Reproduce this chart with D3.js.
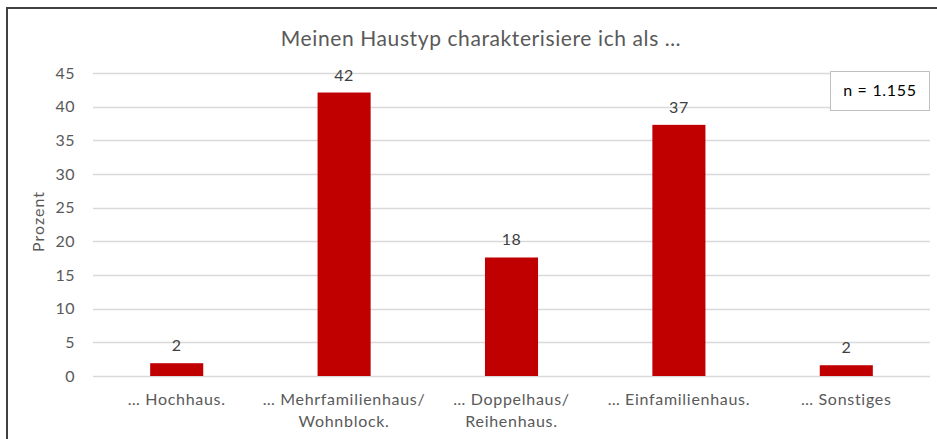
<!DOCTYPE html>
<html>
<head>
<meta charset="utf-8">
<script src="https://cdn.jsdelivr.net/npm/d3@7"></script>
<style>
  body { margin: 0; background: #fff; }
  svg { display: block; font-family: Lato, "Open Sans", sans-serif; }
</style>
</head>
<body>
<svg id="chart" width="937" height="439"></svg>
<script>
// data
var categories = [["… Hochhaus."], ["… Mehrfamilienhaus/", "Wohnblock."], ["… Doppelhaus/", "Reihenhaus."], ["… Einfamilienhaus."], ["… Sonstiges"]];
var percentages = [1.9, 42.1, 17.6, 37.3, 1.6];
var valueLabels = ["2", "42", "18", "37", "2"];
var yTicks = [0, 5, 10, 15, 20, 25, 30, 35, 40, 45];
var chartTitle = "Meinen Haustyp charakterisiere ich als …";
var yTitle = "Prozent";
var noteText = "n = 1.155";

var svg = d3.select("#chart"),
    margin = { top: 73, right: 7, bottom: 63, left: 93 },
    width = +svg.attr("width") - margin.left - margin.right,
    height = +svg.attr("height") - margin.top - margin.bottom;

// outer frame (right and bottom run off the picture)
svg.append("rect")
    .attr("x", 7).attr("y", 8)
    .attr("width", 960).attr("height", 460)
    .attr("fill", "none")
    .attr("stroke", "#404040")
    .attr("stroke-width", 2);

var g = svg.append("g").attr("transform", "translate(" + margin.left + "," + margin.top + ")");

var idx = d3.range(categories.length);

var x = d3.scaleBand()
    .domain(idx)
    .range([0, width])
    .paddingInner(0.683)
    .paddingOuter(0.3415);

var y = d3.scaleLinear()
    .domain([0, 45])
    .range([height, 0]);

// gridlines
g.append("g")
    .selectAll("line")
    .data(yTicks)
    .enter().append("line")
    .attr("x1", 0).attr("x2", width)
    .attr("y1", function (d) { return Math.round(y(d)) + 0.5; })
    .attr("y2", function (d) { return Math.round(y(d)) + 0.5; })
    .attr("stroke", "#d9d9d9")
    .attr("stroke-width", 1.3);

// y axis labels
var yAxis = g.append("g")
    .call(d3.axisLeft(y).tickValues(yTicks).tickSize(0).tickPadding(18));
yAxis.select(".domain").remove();
yAxis.selectAll("text")
    .attr("fill", "#595959")
    .attr("font-size", 16)
    .attr("letter-spacing", 0.5)
    .attr("font-family", "Lato, sans-serif");

// bars
g.append("g")
    .selectAll("rect")
    .data(idx)
    .enter().append("rect")
    .attr("x", function (d) { return x(d); })
    .attr("y", function (d) { return y(percentages[d]); })
    .attr("width", x.bandwidth())
    .attr("height", function (d) { return height - y(percentages[d]); })
    .attr("fill", "#c00000");

// value labels
g.append("g")
    .selectAll("text")
    .data(idx)
    .enter().append("text")
    .attr("x", function (d) { return x(d) + x.bandwidth() / 2; })
    .attr("y", function (d) { return y(percentages[d]) - 12; })
    .attr("text-anchor", "middle")
    .attr("fill", "#404040")
    .attr("font-size", 16)
    .attr("letter-spacing", 0.5)
    .text(function (d) { return valueLabels[d]; });

// category labels
var catLabels = g.append("g")
    .selectAll("text")
    .data(idx)
    .enter().append("text")
    .attr("x", function (d) { return x(d) + x.bandwidth() / 2; })
    .attr("y", height + 29)
    .attr("text-anchor", "middle")
    .attr("fill", "#595959")
    .attr("font-size", 16)
    .attr("letter-spacing", 0.7);
catLabels.selectAll("tspan")
    .data(function (d) { return categories[d]; })
    .enter().append("tspan")
    .attr("x", function () { return d3.select(this.parentNode).attr("x"); })
    .attr("dy", function (d, i) { return i === 0 ? 0 : 21.5; })
    .text(function (d) { return d; });

// title
svg.append("text")
    .attr("x", 481)
    .attr("y", 46)
    .attr("text-anchor", "middle")
    .attr("fill", "#595959")
    .attr("font-size", 21)
    .attr("letter-spacing", 0.6)
    .text(chartTitle);

// y title
svg.append("text")
    .attr("transform", "translate(44," + (margin.top + height / 2 - 3) + ") rotate(-90)")
    .attr("text-anchor", "middle")
    .attr("fill", "#595959")
    .attr("font-size", 16)
    .attr("letter-spacing", 1)
    .text(yTitle);

// n box
var note = svg.append("g").attr("transform", "translate(830,71)");
note.append("rect")
    .attr("x", 0.5).attr("y", 0.5)
    .attr("width", 99).attr("height", 39)
    .attr("fill", "#fff")
    .attr("stroke", "#bfbfbf");
note.append("text")
    .attr("x", 50).attr("y", 25)
    .attr("text-anchor", "middle")
    .attr("fill", "#000")
    .attr("font-size", 16)
    .attr("letter-spacing", 0.7)
    .text(noteText);
</script>
</body>
</html>
